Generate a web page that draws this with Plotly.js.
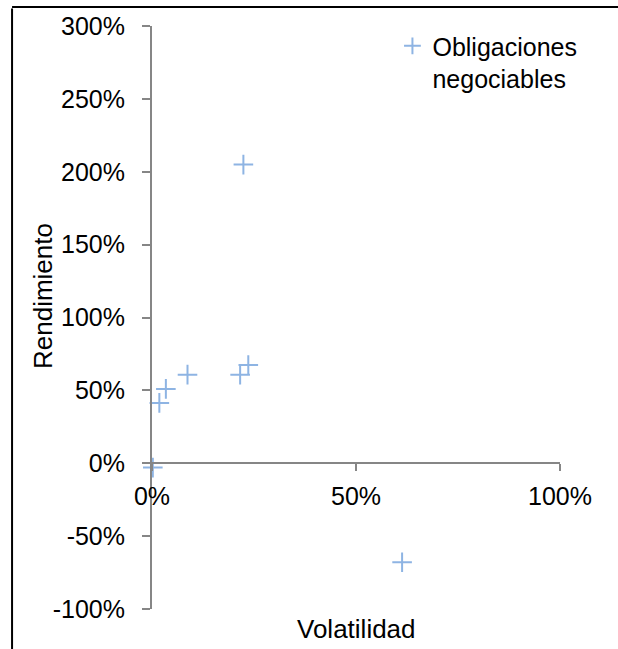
<!DOCTYPE html>
<html>
<head>
<meta charset="utf-8">
<script src="https://cdn.plot.ly/plotly-3.0.1.min.js"></script>
<style>
  html, body { margin: 0; padding: 0; background: #fff; }
  #chart { width: 618px; height: 649px; }
</style>
</head>
<body>
<div id="chart"></div>
<script>
// Data
const seriesName = "Obligaciones<br>negociables";
const volatilidad = [0.002, 0.018, 0.034, 0.087, 0.216, 0.236, 0.224, 0.613];
const rendimiento = [-0.03, 0.414, 0.51, 0.608, 0.608, 0.674, 2.049, -0.679];
const xTitle = "Volatilidad";
const yTitle = "Rendimiento";
const xTickVals = [0, 0.5, 1];
const xTickText = ["0%", "50%", "100%"];
const yTickVals = [-1, -0.5, 0, 0.5, 1, 1.5, 2, 2.5, 3];
const yTickText = ["-100%", "-50%", "0%", "50%", "100%", "150%", "200%", "250%", "300%"];

const FONT = "Liberation Sans, Arial, sans-serif";
const AXIS_COLOR = "#868686";
const MARKER_COLOR = "#8EB4E3";

const trace = {
  type: "scatter",
  mode: "markers",
  x: volatilidad,
  y: rendimiento,
  name: seriesName,
  cliponaxis: false,
  marker: {
    symbol: "cross-thin-open",
    size: 14,
    color: MARKER_COLOR,
    line: { color: MARKER_COLOR, width: 2 }
  },
  hoverinfo: "x+y"
};

const layout = {
  width: 618,
  height: 649,
  margin: { l: 152, r: 58, t: 26, b: 40, pad: 0 },
  paper_bgcolor: "#ffffff",
  plot_bgcolor: "#ffffff",
  font: { family: FONT, size: 25, color: "#000000" },
  showlegend: true,
  legend: {
    x: 1.055, xanchor: "right",
    y: 1.005, yanchor: "top",
    bgcolor: "rgba(0,0,0,0)",
    font: { family: FONT, size: 25, color: "#000000" },
    itemsizing: "constant",
    valign: "top",
    tracegroupgap: 0
  },
  xaxis: {
    range: [0, 1],
    anchor: "free",
    position: 0.25,
    tickmode: "array",
    tickvals: xTickVals,
    ticktext: xTickText,
    showgrid: false,
    zeroline: false,
    showline: true,
    linecolor: AXIS_COLOR,
    linewidth: 2,
    ticks: "outside",
    ticklen: 7,
    tickwidth: 2,
    tickcolor: AXIS_COLOR,
    ticklabelstandoff: 4,
    tickfont: { family: FONT, size: 25, color: "#000000" },
    fixedrange: true
  },
  yaxis: {
    range: [-1, 3],
    tickmode: "array",
    tickvals: yTickVals,
    ticktext: yTickText,
    showgrid: false,
    zeroline: false,
    showline: true,
    linecolor: AXIS_COLOR,
    linewidth: 2,
    ticks: "outside",
    ticklen: 8,
    tickwidth: 2,
    tickcolor: AXIS_COLOR,
    ticklabelstandoff: 12,
    tickfont: { family: FONT, size: 25, color: "#000000" },
    fixedrange: true
  },
  annotations: [
    {
      text: xTitle,
      xref: "paper", yref: "paper",
      x: 0.5, y: -0.005,
      xanchor: "center", yanchor: "top",
      showarrow: false,
      font: { family: FONT, size: 26, color: "#000000" }
    },
    {
      text: yTitle,
      xref: "paper", yref: "paper",
      x: -0.267, y: 0.537,
      xanchor: "center", yanchor: "middle",
      textangle: -90,
      showarrow: false,
      font: { family: FONT, size: 26, color: "#000000" }
    }
  ],
  shapes: [
    {
      type: "line", xref: "paper", yref: "paper",
      x0: -0.343, x1: -0.343, y0: 1.03, y1: -0.1,
      line: { color: "#000000", width: 2 }
    },
    {
      type: "line", xref: "paper", yref: "paper",
      x0: -0.343, x1: 1.2, y0: 1.0326, y1: 1.0326,
      line: { color: "#000000", width: 2 }
    }
  ]
};

Plotly.newPlot("chart", [trace], layout, { displayModeBar: false, staticPlot: true });
</script>
</body>
</html>
